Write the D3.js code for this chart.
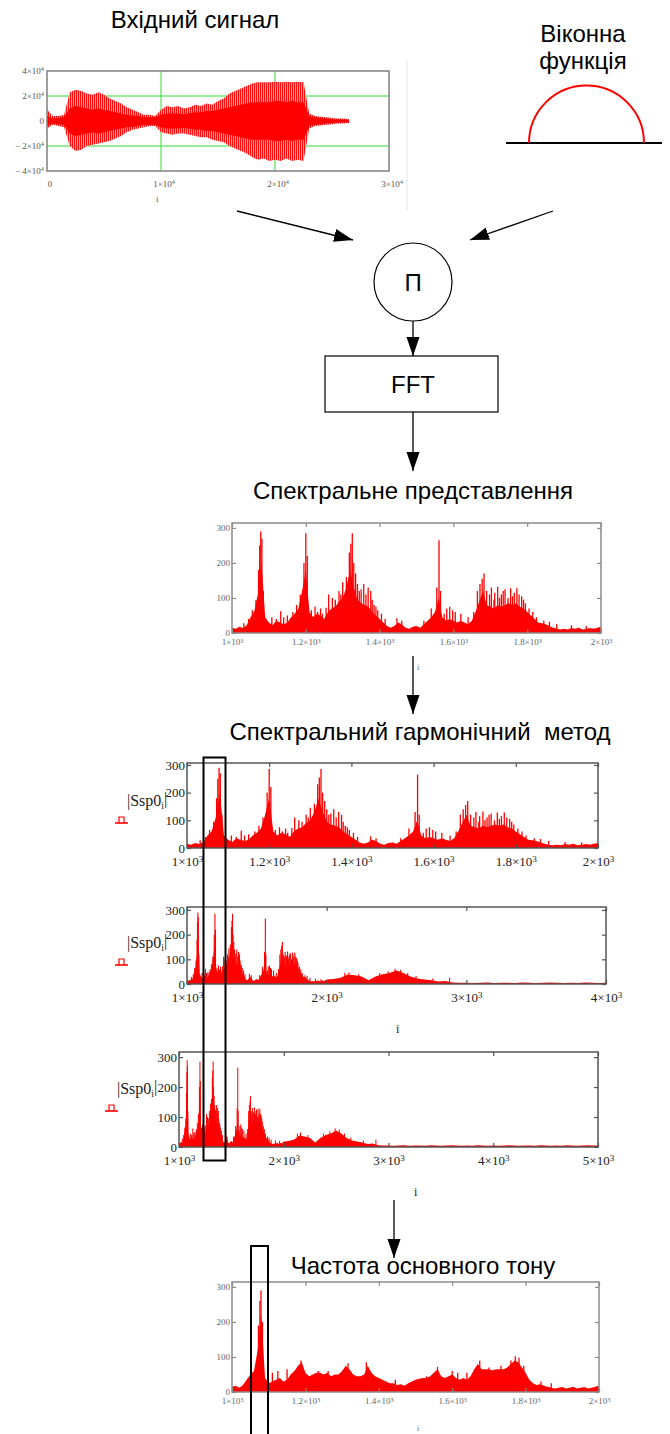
<!DOCTYPE html>
<html>
<head>
<meta charset="utf-8">
<script src="https://d3js.org/d3.v7.min.js"></script>
<style>
  body { margin: 0; background: #fff; }
  svg { display: block; }
</style>
</head>
<body>
<div id="fig"></div>
<script>
// ---- input signal, envelopes in units of 1e4, one value every 500 samples
var sigStep = 500;
var sigUpper = [0.9, 0.4, 0.4, 0.5, 2.3, 2.5, 2.4, 2.2, 2.1, 2.3,
    2.1, 1.8, 1.6, 1.4, 1.1, 0.9, 0.7, 0.5, 0.5, 0.4,
    0.9, 1.2, 1.1, 1.2, 1.0, 1.1, 1.3, 1.2, 1.4, 1.3,
    1.6, 1.8, 2.2, 2.4, 2.6, 2.8, 3.0, 3.1, 3.1, 3.1,
    3.15, 3.1, 3.15, 3.1, 3.15, 3.1, 0.6, 0.4, 0.35, 0.3,
    0.25, 0.2, 0.2, 0.15];
var sigLower = [-0.6, -0.3, -0.4, -0.5, -2.0, -2.4, -2.3, -2.0, -1.9, -1.8,
    -1.7, -1.6, -1.4, -1.2, -0.9, -0.7, -0.6, -0.5, -0.4, -0.4,
    -0.9, -1.0, -1.1, -1.0, -1.0, -1.1, -1.2, -1.3, -1.3, -1.5,
    -1.6, -1.7, -2.0, -2.2, -2.4, -2.6, -2.9, -3.1, -3.0, -3.2,
    -3.1, -3.2, -3.0, -3.2, -3.1, -3.2, -0.6, -0.4, -0.35, -0.3,
    -0.25, -0.2, -0.2, -0.15];
var sigCore = [0.4, 0.2, 0.25, 0.3, 1.0, 1.2, 1.1, 1.0, 0.9, 1.0,
    0.9, 0.8, 0.7, 0.6, 0.5, 0.45, 0.4, 0.3, 0.3, 0.3,
    0.5, 0.6, 0.6, 0.6, 0.55, 0.6, 0.7, 0.7, 0.8, 0.8,
    0.9, 1.0, 1.1, 1.2, 1.3, 1.4, 1.5, 1.5, 1.5, 1.5,
    1.6, 1.6, 1.5, 1.6, 1.5, 1.5, 0.4, 0.3, 0.25, 0.2,
    0.15, 0.12, 0.1, 0.1];
var sigTicksX = [0, 10000, 20000, 30000];
var sigTicksY = [-4, -2, 0, 2, 4];
var sigGridX = [10000, 20000];
var sigGridY = [-2, 2];

// ---- spectrum |Ssp0_i|, 1000..1990 every 10, then 2000..5000 every 50
var specStart = 1000, specStep = 10;
var specLow = [15, 12, 18, 14, 22, 45, 60, 110, 200, 45,
    30, 22, 35, 30, 25, 30, 45, 55, 70, 120,
    180, 60, 45, 55, 50, 40, 60, 70, 75, 90,
    100, 130, 180, 130, 95, 85, 80, 75, 60, 50,
    40, 30, 20, 15, 20, 30, 25, 15, 12, 18,
    20, 15, 25, 35, 45, 60, 100, 45, 35, 40,
    35, 30, 35, 30, 25, 35, 60, 90, 120, 80,
    75, 70, 80, 75, 80, 85, 80, 85, 75, 70,
    60, 50, 40, 30, 28, 25, 20, 15, 12, 10,
    12, 10, 14, 12, 15, 10, 12, 14, 12, 15];
var specTailStart = 2000, specTailStep = 50;
var specTail = [18, 20, 25, 38, 35, 30, 15, 30, 40, 45,
    55, 45, 30, 22, 18, 15, 10, 12, 6, 5,
    5, 4, 5, 6, 4, 5, 5, 4, 6, 5,
    4, 5, 6, 5, 4, 5, 4, 6, 5, 4,
    5, 4, 5, 6, 5, 4, 5, 5, 4, 6,
    5, 4, 5, 4, 6, 5, 4, 5, 6, 5,
    5];
var specPeaks = [[1032, 28], [1045, 40], [1055, 65], [1065, 95], [1072, 180], [1075, 250],
    [1078, 290], [1081, 270], [1085, 120], [1108, 45], [1120, 40], [1132, 62], [1140, 45],
    [1150, 50], [1165, 60], [1175, 80], [1185, 110], [1195, 200], [1200, 285], [1204, 220],
    [1215, 65], [1225, 75], [1232, 60], [1240, 70], [1245, 55], [1255, 72], [1262, 110],
    [1272, 100], [1280, 95], [1285, 75], [1290, 120], [1295, 110], [1300, 145], [1310, 160],
    [1318, 230], [1322, 255], [1326, 285], [1330, 200], [1335, 170], [1340, 140], [1345, 120],
    [1350, 125], [1357, 140], [1363, 110], [1369, 130], [1376, 120], [1380, 95], [1385, 80],
    [1390, 75], [1395, 65], [1405, 55], [1415, 40], [1447, 42], [1460, 35], [1520, 35],
    [1540, 70], [1555, 130], [1561, 265], [1565, 120], [1575, 55], [1582, 70], [1590, 75],
    [1598, 65], [1605, 60], [1620, 55], [1640, 45], [1655, 60], [1665, 120], [1672, 140],
    [1678, 155], [1683, 170], [1690, 120], [1698, 110], [1703, 130], [1710, 95], [1712, 115],
    [1720, 132], [1725, 100], [1730, 110], [1735, 120], [1740, 125], [1748, 100], [1755, 128],
    [1760, 105], [1765, 115], [1772, 128], [1778, 110], [1785, 105], [1790, 95], [1795, 85],
    [1805, 70], [1815, 60], [1825, 45], [1845, 35], [1860, 32], [1880, 25], [1920, 22],
    [1960, 20], [2130, 45], [2160, 48], [2230, 40], [2380, 45], [2440, 52], [2490, 62],
    [2530, 58], [2580, 45], [2640, 32], [2760, 22], [2880, 25]];

// ---- pitch spectrum, 1000..2000 every 10
var pitchStart = 1000, pitchStep = 10;
var pitchLow = [15, 18, 12, 20, 35, 50, 60, 120, 220, 40,
    25, 30, 35, 40, 30, 35, 50, 60, 75, 85,
    55, 45, 50, 55, 55, 50, 55, 45, 50, 50,
    60, 75, 65, 50, 45, 45, 50, 75, 55, 45,
    40, 35, 30, 25, 25, 20, 22, 18, 25, 30,
    35, 38, 40, 40, 45, 55, 65, 45, 40, 45,
    50, 40, 35, 40, 35, 45, 65, 80, 65, 65,
    65, 62, 65, 65, 65, 70, 80, 90, 85, 70,
    55, 35, 25, 20, 22, 18, 15, 12, 10, 12,
    14, 10, 12, 15, 10, 12, 14, 10, 12, 15,
    18];
var pitchPeaks = [[1072, 190], [1076, 260], [1079, 290], [1083, 200], [1110, 55], [1125, 60],
    [1150, 65], [1188, 90], [1235, 60], [1262, 60], [1316, 82], [1366, 85], [1372, 65],
    [1445, 35], [1530, 45], [1560, 72], [1600, 60], [1615, 55], [1640, 55], [1675, 90],
    [1700, 70], [1733, 75], [1760, 90], [1772, 102], [1782, 98], [1795, 75], [1842, 30],
    [1870, 25]];

var ticks2k = [1000, 1200, 1400, 1600, 1800, 2000];
var ticks4k = [1000, 2000, 3000, 4000];
var ticks5k = [1000, 2000, 3000, 4000, 5000];
var ticksAmp = [0, 100, 200, 300];

var W = 670, H = 1434;
var sansFont = '"Liberation Sans", Arial, sans-serif';
var serifFont = '"Liberation Serif", "Times New Roman", serif';

var svg = d3.select('#fig').append('svg').attr('width', W).attr('height', H);
var defs = svg.append('defs');
defs.append('marker').attr('id', 'head')
    .attr('markerUnits', 'userSpaceOnUse')
    .attr('markerWidth', 20).attr('markerHeight', 14)
    .attr('refX', 19).attr('refY', 6.5).attr('orient', 'auto')
    .append('path').attr('d', 'M0,0 L19,6.5 L0,13 Z').attr('fill', '#000');
var pat = defs.append('pattern').attr('id', 'stripes')
    .attr('patternUnits', 'userSpaceOnUse').attr('width', 2).attr('height', 8);
pat.append('rect').attr('width', 2).attr('height', 8).attr('fill', '#ff9a9a');
pat.append('rect').attr('width', 1).attr('height', 8).attr('fill', '#ff1010');

function sciText(sel, v, exp) {
    sel.text(null);
    if (v === 0) { sel.text('0'); return; }
    var m = Math.abs(v) / Math.pow(10, exp);
    sel.append('tspan').text((v < 0 ? '\u2212 ' : '') + d3.format('~g')(m) + '\u00d710');
    sel.append('tspan').attr('dy', '-0.45em').attr('font-size', '0.7em').text(exp);
}

function label(x, y, txt, size, anchor) {
    return svg.append('text').attr('x', x).attr('y', y)
        .attr('text-anchor', anchor || 'middle')
        .attr('font-family', sansFont).attr('font-size', size || 24)
        .attr('fill', '#000').style('white-space', 'pre').text(txt);
}

function arrow(x1, y1, x2, y2) {
    svg.append('line').attr('x1', x1).attr('y1', y1).attr('x2', x2).attr('y2', y2)
        .attr('stroke', '#000').attr('stroke-width', 1.3)
        .attr('marker-end', 'url(#head)');
}

// ================= input signal =================
label(195, 28, 'Вхідний сигнал');
(function () {
    var box = {x: 47, y: 71, w: 342, h: 100};
    var x = d3.scaleLinear().domain([0, 30000]).range([box.x, box.x + box.w]);
    var y = d3.scaleLinear().domain([-4, 4]).range([box.y + box.h, box.y]);
    var idx = d3.range(sigUpper.length);
    var g = svg.append('g');
    g.selectAll('line.gx').data(sigGridX).join('line')
        .attr('x1', function (d) { return x(d); }).attr('x2', function (d) { return x(d); })
        .attr('y1', box.y).attr('y2', box.y + box.h)
        .attr('stroke', '#33dd33').attr('stroke-width', 1);
    g.selectAll('line.gy').data(sigGridY).join('line')
        .attr('y1', function (d) { return y(d); }).attr('y2', function (d) { return y(d); })
        .attr('x1', box.x).attr('x2', box.x + box.w)
        .attr('stroke', '#33dd33').attr('stroke-width', 1);
    g.append('path').datum(idx)
        .attr('fill', 'url(#stripes)')
        .attr('d', d3.area()
            .x(function (k) { return x(k * sigStep); })
            .y0(function (k) { return y(sigLower[k]); })
            .y1(function (k) { return y(sigUpper[k]); }));
    g.append('path').datum(idx)
        .attr('fill', '#ff0000')
        .attr('d', d3.area()
            .x(function (k) { return x(k * sigStep); })
            .y0(function (k) { return y(-sigCore[k]); })
            .y1(function (k) { return y(sigCore[k]); }));
    g.append('rect').attr('x', box.x).attr('y', box.y).attr('width', box.w).attr('height', box.h)
        .attr('fill', 'none').attr('stroke', '#808080').attr('stroke-width', 1.5);
    g.selectAll('text.ty').data(sigTicksY).join('text')
        .attr('x', box.x - 3).attr('y', function (d) { return y(d) + 3; })
        .attr('text-anchor', 'end').attr('font-family', serifFont).attr('font-size', 9)
        .attr('fill', '#555')
        .each(function (d) { sciText(d3.select(this), d * 10000, 4); });
    g.selectAll('text.tx').data(sigTicksX).join('text')
        .attr('x', function (d) { return x(d) + 3; }).attr('y', 187)
        .attr('text-anchor', 'middle').attr('font-family', serifFont).attr('font-size', 9)
        .attr('fill', '#555')
        .each(function (d) { sciText(d3.select(this), d, 4); });
    g.append('text').attr('x', 156).attr('y', 202).attr('font-family', serifFont)
        .attr('font-size', 9).attr('fill', '#555').text('i');
    g.append('line').attr('x1', 407).attr('x2', 407).attr('y1', 60).attr('y2', 210)
        .attr('stroke', '#e2e2e2').attr('stroke-width', 1);
})();

// ================= window function =================
label(583, 42, 'Віконна');
label(583, 69, 'функція');
svg.append('line').attr('x1', 506).attr('x2', 662).attr('y1', 143).attr('y2', 143)
    .attr('stroke', '#000').attr('stroke-width', 2);
(function () {
    var p = d3.path();
    p.arc(586.5, 143, 57.5, Math.PI, 2 * Math.PI);
    svg.append('path').attr('d', p.toString()).attr('fill', 'none')
        .attr('stroke', '#ff0000').attr('stroke-width', 2);
})();

// ================= flow =================
arrow(237, 211, 353, 240);
arrow(553, 211, 470, 240);
svg.append('circle').attr('cx', 413).attr('cy', 282).attr('r', 39)
    .attr('fill', '#fff').attr('stroke', '#000').attr('stroke-width', 1.2);
label(413, 291, 'П');
arrow(413, 321, 413, 356);
svg.append('rect').attr('x', 325).attr('y', 356).attr('width', 173).attr('height', 56)
    .attr('fill', '#fff').attr('stroke', '#000').attr('stroke-width', 1.2);
label(413, 393, 'FFT');
arrow(413, 412, 413, 471);
label(413, 499, 'Спектральне представлення');

// ================= spectrum plots =================
function seriesPoints(start, step, vals) {
    return vals.map(function (v, k) { return {i: start + k * step, v: v}; });
}
var specPts = seriesPoints(specStart, specStep, specLow)
    .concat(seriesPoints(specTailStart, specTailStep, specTail));
var pitchPts = seriesPoints(pitchStart, pitchStep, pitchLow);

function spectrum(c) {
    var x = d3.scaleLinear().domain(c.dom).range([c.x, c.x + c.w]);
    var y = d3.scaleLinear().domain([0, c.ymax]).range([c.y + c.h, c.y]);
    defs.append('clipPath').attr('id', 'clip' + c.id)
        .append('rect').attr('x', c.x).attr('y', c.y - 2).attr('width', c.w).attr('height', c.h + 2);
    var g = svg.append('g').attr('clip-path', 'url(#clip' + c.id + ')');
    g.append('path').datum(c.pts).attr('fill', '#ff0000')
        .attr('d', d3.area()
            .x(function (d) { return x(d.i); })
            .y0(y(0)).y1(function (d) { return y(d.v); }));
    g.selectAll('line').data(c.peaks).join('line')
        .attr('x1', function (d) { return x(d[0]); }).attr('x2', function (d) { return x(d[0]); })
        .attr('y1', y(0)).attr('y2', function (d) { return y(d[1]); })
        .attr('stroke', '#ff0000').attr('stroke-width', c.pw);

    var a = svg.append('g').attr('font-family', serifFont);
    a.append('rect').attr('x', c.x).attr('y', c.y).attr('width', c.w).attr('height', c.h)
        .attr('fill', 'none').attr('stroke', c.frame).attr('stroke-width', 1.5);
    var axL = a.append('g').attr('transform', 'translate(' + c.x + ',0)')
        .call(d3.axisLeft(y).tickValues(ticksAmp).tickSizeInner(-4).tickSizeOuter(0).tickPadding(2));
    a.append('g').attr('transform', 'translate(' + (c.x + c.w) + ',0)')
        .call(d3.axisRight(y).tickValues(ticksAmp).tickSizeInner(-4).tickSizeOuter(0).tickFormat(''));
    var axB = a.append('g').attr('transform', 'translate(0,' + (c.y + c.h) + ')')
        .call(d3.axisBottom(x).tickValues(c.ticks).tickSizeInner(-4).tickSizeOuter(0).tickPadding(c.pad));
    a.append('g').attr('transform', 'translate(0,' + c.y + ')')
        .call(d3.axisTop(x).tickValues(c.ticks).tickSizeInner(-4).tickSizeOuter(0).tickFormat(''));
    a.selectAll('.domain').remove();
    a.selectAll('.tick line').attr('stroke', c.frame).attr('stroke-width', 1.2);
    axL.selectAll('text').attr('font-size', c.fs).attr('fill', c.tc).attr('font-family', serifFont);
    axB.selectAll('text').attr('font-size', c.fs).attr('fill', c.tc).attr('font-family', serifFont)
        .each(function (d) { sciText(d3.select(this), d, 3); });
    if (c.iy) {
        a.append('text').attr('x', c.ix).attr('y', c.iy).attr('font-size', c.fs - 1)
            .attr('fill', c.tc).text('i');
    }
    if (c.lab) {
        var t = a.append('text').attr('x', c.lab[0]).attr('y', c.lab[1])
            .attr('font-size', 16).attr('fill', '#222');
        t.append('tspan').text('|Ssp0');
        t.append('tspan').attr('dy', '0.3em').attr('font-size', '0.6em').text('i');
        t.append('tspan').attr('dy', '-0.3em').text('|');
        var mx = c.lab[0] - 5, my = c.lab[1] + 17;
        a.append('line').attr('x1', mx - 7).attr('x2', mx + 6).attr('y1', my).attr('y2', my)
            .attr('stroke', '#ff0000').attr('stroke-width', 1.6);
        a.append('path').attr('d', 'M' + (mx - 3) + ',' + my + 'V' + (my - 6) + 'H' + (mx + 2) + 'V' + my)
            .attr('fill', 'none').attr('stroke', '#ff0000').attr('stroke-width', 1.2);
    }
}

spectrum({id: 1, x: 232, y: 523, w: 369, h: 110, dom: [1000, 2000], ymax: 314, ticks: ticks2k,
    pts: specPts, peaks: specPeaks, pw: 1.3, fs: 9, tc: '#666', frame: '#8a8a8a', pad: 6,
    ix: 417, iy: 670});
label(420, 740, 'Спектральний гармонічний  метод');
spectrum({id: 2, x: 187, y: 763, w: 411, h: 85, dom: [1000, 2000], ymax: 307, ticks: ticks2k,
    pts: specPts, peaks: specPeaks, pw: 1.3, fs: 13, tc: '#222', frame: '#555', pad: 9,
    lab: [127, 806]});
spectrum({id: 3, x: 187, y: 907, w: 419, h: 77, dom: [1000, 4000], ymax: 312, ticks: ticks4k,
    pts: specPts, peaks: specPeaks, pw: 1.1, fs: 13, tc: '#222', frame: '#555', pad: 9,
    lab: [127, 948], ix: 396, iy: 1033});
spectrum({id: 4, x: 179, y: 1052, w: 419, h: 95, dom: [1000, 5000], ymax: 317, ticks: ticks5k,
    pts: specPts, peaks: specPeaks, pw: 1, fs: 13, tc: '#222', frame: '#555', pad: 9,
    lab: [117, 1094], ix: 414, iy: 1196});
arrow(394, 1200, 394, 1258);
label(423, 1274, 'Частота основного тону');
spectrum({id: 5, x: 232, y: 1282, w: 367, h: 110, dom: [1000, 2000], ymax: 314, ticks: ticks2k,
    pts: pitchPts, peaks: pitchPeaks, pw: 1.3, fs: 9, tc: '#666', frame: '#8a8a8a', pad: 6,
    ix: 417, iy: 1431});
// chart-1 to chart-2 connector
arrow(413, 656, 413, 714);

// highlight frames
svg.append('rect').attr('x', 203.5).attr('y', 757.5).attr('width', 22).attr('height', 403)
    .attr('fill', 'none').attr('stroke', '#000').attr('stroke-width', 2);
svg.append('rect').attr('x', 251).attr('y', 1246).attr('width', 17).attr('height', 200)
    .attr('fill', 'none').attr('stroke', '#000').attr('stroke-width', 2);
</script>
</body>
</html>
